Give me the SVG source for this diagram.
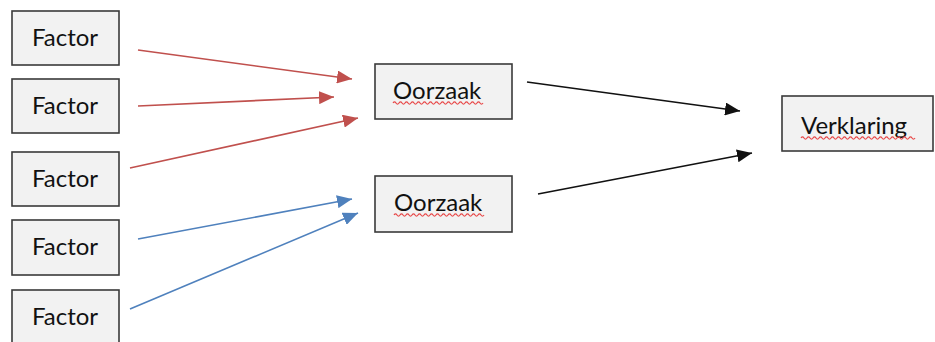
<svg xmlns="http://www.w3.org/2000/svg" width="935" height="342" viewBox="0 0 935 342">
  <style>
    .box { fill: #f2f2f2; stroke: #3a3a3a; stroke-width: 1.6; }
    .lbl { font-family: Lato, "Open Sans", "Liberation Sans", sans-serif; font-size: 24px; fill: #111; }
    .red { stroke: #c0504d; stroke-width: 1.6; fill: none; }
    .blue { stroke: #4f81bd; stroke-width: 1.6; fill: none; }
    .black { stroke: #111; stroke-width: 1.6; fill: none; }
    .squig { stroke: #e84a4a; stroke-width: 1.2; fill: none; }
  </style>
  <defs>
    <marker id="ahRed" viewBox="0 0 10 10" refX="10" refY="5" markerWidth="15" markerHeight="13" markerUnits="userSpaceOnUse" orient="auto" preserveAspectRatio="none">
      <path d="M0,0 L10,5 L0,10 z" fill="#c0504d"/>
    </marker>
    <marker id="ahBlue" viewBox="0 0 10 10" refX="10" refY="5" markerWidth="15" markerHeight="13" markerUnits="userSpaceOnUse" orient="auto" preserveAspectRatio="none">
      <path d="M0,0 L10,5 L0,10 z" fill="#4f81bd"/>
    </marker>
    <marker id="ahBlack" viewBox="0 0 10 10" refX="10" refY="5" markerWidth="15" markerHeight="13" markerUnits="userSpaceOnUse" orient="auto" preserveAspectRatio="none">
      <path d="M0,0 L10,5 L0,10 z" fill="#111"/>
    </marker>
  </defs>
  <rect width="935" height="342" fill="#ffffff"/>

  <g id="factor1"><rect class="box" x="12" y="11" width="107" height="54"/><text class="lbl" x="65" y="46" text-anchor="middle">Factor</text></g>
  <g id="factor2"><rect class="box" x="12" y="79" width="107" height="54"/><text class="lbl" x="65" y="114" text-anchor="middle">Factor</text></g>
  <g id="factor3"><rect class="box" x="12" y="152" width="107" height="54"/><text class="lbl" x="65" y="187" text-anchor="middle">Factor</text></g>
  <g id="factor4"><rect class="box" x="12" y="220" width="107" height="55"/><text class="lbl" x="65" y="255" text-anchor="middle">Factor</text></g>
  <g id="factor5"><rect class="box" x="12" y="290" width="107" height="60"/><text class="lbl" x="65" y="325" text-anchor="middle">Factor</text></g>

  <g id="oorzaak1"><rect class="box" x="375" y="64" width="137" height="55"/><text class="lbl" x="393" y="99">Oorzaak</text>
    <path class="squig" d="M393,103 q1.5,-2.4 3,0 t3,0 t3,0 t3,0 t3,0 t3,0 t3,0 t3,0 t3,0 t3,0 t3,0 t3,0 t3,0 t3,0 t3,0 t3,0 t3,0 t3,0 t3,0 t3,0 t3,0 t3,0 t3,0 t3,0 t3,0 t3,0 t3,0 t3,0 t3,0 t3,0"/></g>
  <g id="oorzaak2"><rect class="box" x="375" y="176" width="137" height="56"/><text class="lbl" x="394" y="211">Oorzaak</text>
    <path class="squig" d="M394,215 q1.5,-2.4 3,0 t3,0 t3,0 t3,0 t3,0 t3,0 t3,0 t3,0 t3,0 t3,0 t3,0 t3,0 t3,0 t3,0 t3,0 t3,0 t3,0 t3,0 t3,0 t3,0 t3,0 t3,0 t3,0 t3,0 t3,0 t3,0 t3,0 t3,0 t3,0 t3,0"/></g>
  <g id="verklaring"><rect class="box" x="782" y="96" width="151" height="55"/><text class="lbl" x="801" y="134">Verklaring</text>
    <path class="squig" d="M801,138 q1.5,-2.4 3,0 t3,0 t3,0 t3,0 t3,0 t3,0 t3,0 t3,0 t3,0 t3,0 t3,0 t3,0 t3,0 t3,0 t3,0 t3,0 t3,0 t3,0 t3,0 t3,0 t3,0 t3,0 t3,0 t3,0 t3,0 t3,0 t3,0 t3,0 t3,0 t3,0 t3,0 t3,0 t3,0 t3,0 t3,0 t3,0 t3,0 t3,0"/></g>

  <g id="connectors">
    <line class="red" x1="138" y1="50" x2="352" y2="79" marker-end="url(#ahRed)"/>
    <line class="red" x1="138" y1="106" x2="334" y2="97" marker-end="url(#ahRed)"/>
    <line class="red" x1="130" y1="168" x2="358" y2="118" marker-end="url(#ahRed)"/>
    <line class="blue" x1="138" y1="239" x2="352" y2="199" marker-end="url(#ahBlue)"/>
    <line class="blue" x1="130" y1="309" x2="358" y2="213" marker-end="url(#ahBlue)"/>
    <line class="black" x1="527" y1="82" x2="740" y2="111" marker-end="url(#ahBlack)"/>
    <line class="black" x1="538" y1="194" x2="752" y2="153" marker-end="url(#ahBlack)"/>
  </g>
</svg>
